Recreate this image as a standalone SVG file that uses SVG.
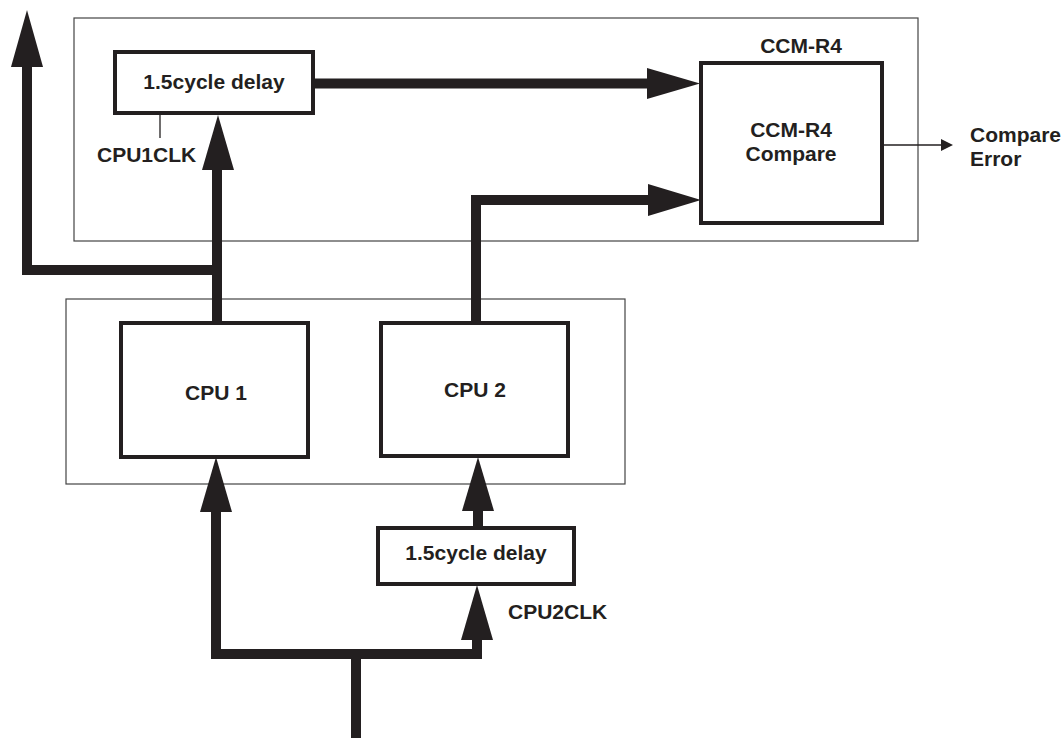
<svg xmlns="http://www.w3.org/2000/svg" width="1064" height="738" viewBox="0 0 1064 738">
  <style>
    .frame { fill: none; stroke: #444; stroke-width: 1.2; }
    .box { fill: #fff; stroke: #231f20; stroke-width: 4; }
    .wire { fill: none; stroke: #231f20; stroke-width: 10; stroke-linejoin: miter; stroke-linecap: butt; }
    .thin { fill: none; stroke: #231f20; stroke-width: 1.3; }
    .head { fill: #231f20; }
    text { font-family: "Liberation Sans", Arial, sans-serif; font-weight: bold; font-size: 21px; fill: #231f20; }
    .c { text-anchor: middle; }
  </style>
  <rect width="1064" height="738" fill="#fff"/>
  <g id="frames">
    <rect class="frame" x="74" y="18" width="844" height="223"/>
    <rect class="frame" x="66" y="299" width="559" height="185"/>
  </g>
  <g id="connectors">
    <path class="wire" d="M27,67 V270 H217"/>
    <path class="wire" d="M217,323 V170"/>
    <polygon class="head" points="11,67 27,10 43,67"/>
    <polygon class="head" points="202,170 218,115 234,170"/>
    <path class="wire" d="M313,83.5 H648"/>
    <polygon class="head" points="647,68 700,83.5 647,99"/>
    <path class="wire" d="M476,323 V200 H649"/>
    <polygon class="head" points="648,184 701,200 648,216"/>
    <path class="thin" d="M160,113 V138"/>
    <path class="thin" d="M882,145 H942"/>
    <polygon class="head" points="941,139 953,145 941,151"/>
    <path class="wire" d="M356,738 V654"/>
    <path class="wire" d="M216,512 V654 H477 V640"/>
    <polygon class="head" points="200,512 216,457 232,512"/>
    <polygon class="head" points="461,640 477,585 493,640"/>
    <path class="wire" d="M478,528 V510"/>
    <polygon class="head" points="462,511 478,457 494,511"/>
  </g>
  <g id="delay1">
    <rect class="box" x="115" y="52" width="198" height="61"/>
    <text class="c" x="214" y="89">1.5cycle delay</text>
  </g>
  <g id="cpu1clk">
    <text x="97" y="162">CPU1CLK</text>
  </g>
  <g id="ccm">
    <text class="c" x="801" y="53">CCM-R4</text>
    <rect class="box" x="701" y="63" width="181" height="160"/>
    <text class="c" x="791" y="137">CCM-R4</text>
    <text class="c" x="791" y="161">Compare</text>
  </g>
  <g id="compare-error">
    <text x="970" y="142">Compare</text>
    <text x="970" y="166">Error</text>
  </g>
  <g id="cpu1">
    <rect class="box" x="121" y="323" width="187" height="134"/>
    <text class="c" x="216" y="400">CPU 1</text>
  </g>
  <g id="cpu2">
    <rect class="box" x="381" y="323" width="187" height="133"/>
    <text class="c" x="475" y="397">CPU 2</text>
  </g>
  <g id="delay2">
    <rect class="box" x="378" y="528" width="196" height="56"/>
    <text class="c" x="476" y="560">1.5cycle delay</text>
  </g>
  <g id="cpu2clk">
    <text x="508" y="619">CPU2CLK</text>
  </g>
</svg>
